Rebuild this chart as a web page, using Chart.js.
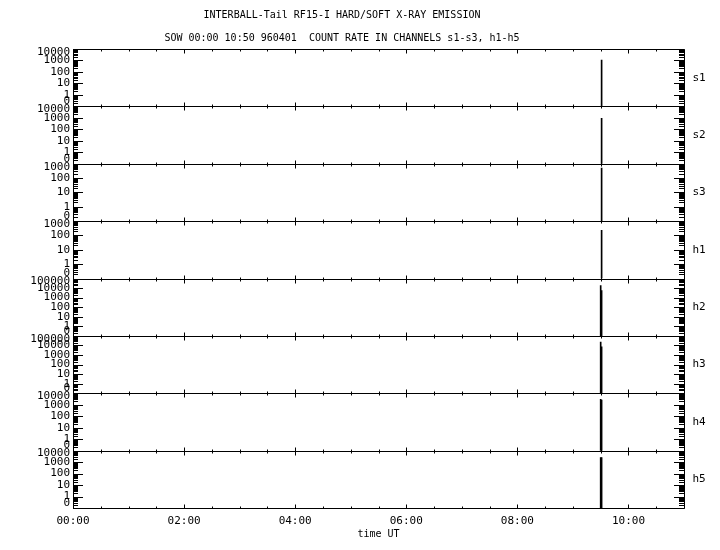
<!DOCTYPE html>
<html>
<head>
<meta charset="utf-8">
<title>INTERBALL-Tail RF15-I</title>
<script src="https://cdn.jsdelivr.net/npm/chart.js@4.4.0/dist/chart.umd.min.js"></script>
<style>
  html, body { margin: 0; padding: 0; background: #fff; }
  #wrap { width: 720px; height: 550px; }
</style>
</head>
<body>
<div id="wrap"><canvas id="xray"></canvas></div>
<script>
// channels, top panel first
const channels = ["s1", "s2", "s3", "h1", "h2", "h3", "h4", "h5"];
// upper end of each panel's count axis (0 sits one decade below 1)
const axisMax = [10000, 10000, 1000, 1000, 100000, 100000, 10000, 10000];

// minutes after 00:00 UT of the burst samples, count rate elsewhere is 0
const burstMinutes = [570, 571, 572];
const s1 = [0, 1100, 0];
const s2 = [0, 900, 0];
const s3 = [0, 500, 0];
const h1 = [0, 230, 0];
const h2 = [18000, 5500, 0];
const h3 = [23000, 7000, 0];
const h4 = [3000, 2500, 0];
const h5 = [2500, 2500, 0];
const counts = [s1, s2, s3, h1, h2, h3, h4, h5];

const xTickLabels = ["00:00", "02:00", "04:00", "06:00", "08:00", "10:00"];

const FONT = "'DejaVu Sans Mono', monospace";
Chart.defaults.font.family = FONT;
Chart.defaults.color = "#000";

// decades plus 2..9 minor marks, from 0.1 ("0") up to max
function logTicks(max) {
  const ticks = [];
  for (let d = 0.1; d < max * 0.99; d *= 10) {
    ticks.push({ value: +d.toPrecision(3) });
    for (let k = 2; k <= 9; k++) ticks.push({ value: +(k * d).toPrecision(3) });
  }
  ticks.push({ value: max });
  return ticks;
}

function isDecade(v) {
  const e = Math.log10(v);
  return Math.abs(e - Math.round(e)) < 1e-6;
}

function labelFor(v) {
  if (Math.abs(v - 0.1) < 1e-9) return "0";
  return isDecade(v) ? String(Math.round(v)) : "";
}

const scales = {
  x: {
    type: "linear", min: 0, max: 660, offset: false,
    grid: { display: false, drawTicks: false },
    border: { display: false },
    ticks: {
      stepSize: 30, autoSkip: false, maxRotation: 0, padding: 7, font: { size: 11 },
      callback: v => (v % 120 === 0 ? xTickLabels[v / 120] : "")
    },
    title: { display: true, text: "time UT", font: { size: 10 }, padding: { top: 0, bottom: 10 } },
    afterFit: s => { s.height = 42; }
  }
};
// stacked left axes are laid out last-first, so add them bottom panel first
for (let i = channels.length - 1; i >= 0; i--) {
  scales["y" + i] = {
    type: "logarithmic", position: "left", stack: "panels", stackWeight: 1,
    min: 0.1, max: axisMax[i],
    grid: { display: false, drawTicks: false },
    border: { display: false },
    ticks: { display: false, autoSkip: false },
    afterBuildTicks: s => { s.ticks = logTicks(axisMax[i]); },
    afterFit: s => { s.width = 73; }
  };
}

// panel frames, inward tick marks, count labels and channel names
const framePlugin = {
  id: "frame",
  afterDraw(chart) {
    const { ctx, chartArea } = chart;
    const xs = chart.scales.x;
    const L = chartArea.left, R = chartArea.right;
    ctx.save();
    ctx.strokeStyle = "#000";
    ctx.fillStyle = "#000";
    ctx.lineWidth = 1;
    ctx.font = "11px " + FONT;
    ctx.textBaseline = "middle";
    channels.forEach((name, i) => {
      const ys = chart.scales["y" + i];
      const T = Math.round(ys.top) + 0.5, B = Math.round(ys.bottom) + 0.5;
      ctx.beginPath();
      ctx.rect(Math.round(L) + 0.5, T, Math.round(R - L), B - T);
      ys.ticks.forEach(t => {
        const py = Math.round(ys.getPixelForValue(t.value)) + 0.5;
        const len = isDecade(t.value) ? 10 : 5;
        ctx.moveTo(L, py); ctx.lineTo(L + len, py);
        ctx.moveTo(R - len, py); ctx.lineTo(R, py);
      });
      xs.ticks.forEach(t => {
        const px = Math.round(xs.getPixelForValue(t.value)) + 0.5;
        const len = t.value % 120 === 0 ? 4 : 2;
        ctx.moveTo(px, T); ctx.lineTo(px, T + len);
        ctx.moveTo(px, B); ctx.lineTo(px, B - len);
      });
      ctx.stroke();
      // count labels, kept inside their own panel
      ctx.textAlign = "right";
      ys.ticks.forEach(t => {
        const text = labelFor(t.value);
        if (!text) return;
        const py = ys.getPixelForValue(t.value);
        ctx.fillText(text, L - 3, Math.min(Math.max(py, ys.top + 3), ys.bottom - 5));
      });
      ctx.textAlign = "center";
      ctx.fillText(name, R + 15, (ys.top + ys.bottom) / 2);
    });
    ctx.restore();
  }
};

new Chart(document.getElementById("xray"), {
  type: "bar",
  data: {
    datasets: channels.map((name, i) => ({
      label: name,
      yAxisID: "y" + i,
      data: burstMinutes.map((m, k) => ({ x: m, y: counts[i][k] })).filter(p => p.y > 0),
      backgroundColor: "#000",
      barThickness: 1,
      grouped: false
    }))
  },
  options: {
    responsive: true,
    maintainAspectRatio: false,
    animation: false,
    layout: { padding: { left: 0, right: 36, top: 0, bottom: 0 } },
    scales,
    plugins: {
      legend: { display: false },
      tooltip: { enabled: false },
      title: {
        display: true, text: "INTERBALL-Tail RF15-I HARD/SOFT X-RAY EMISSION",
        font: { size: 10, weight: "normal" }, padding: { top: 9, bottom: 0 }
      },
      subtitle: {
        display: true, text: "SOW 00:00 10:50 960401  COUNT RATE IN CHANNELS s1-s3, h1-h5",
        font: { size: 10, weight: "normal" }, padding: { top: 11, bottom: 5 }
      }
    }
  },
  plugins: [framePlugin]
});
</script>
</body>
</html>
